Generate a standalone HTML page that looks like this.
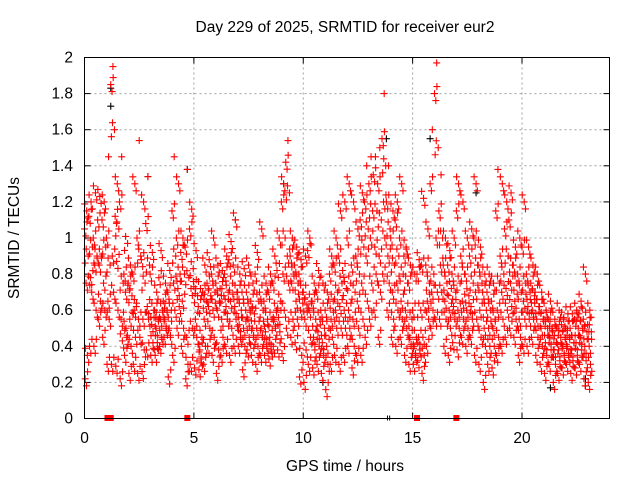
<!DOCTYPE html>
<html><head><meta charset="utf-8"><style>
body{margin:0;background:#fff}
svg text{font-family:"Liberation Sans",sans-serif;font-size:15.5px;fill:#000}
</style></head><body>
<svg id="chart" width="640" height="480" xmlns="http://www.w3.org/2000/svg">
<rect width="640" height="480" fill="#fff"/>
<text x="345" y="32" text-anchor="middle">Day 229 of 2025, SRMTID for receiver eur2</text>
<text x="345" y="471" text-anchor="middle">GPS time / hours</text>
<text x="19" y="238" text-anchor="middle" transform="rotate(-90 19 238)">SRMTID / TECUs</text>
<g id="grid"></g>
<g id="axes"></g>
<g id="black"></g>
<g id="red"></g>
<g id="marks"></g>
<rect x="84.5" y="57.5" width="525" height="361" fill="none" stroke="#000" stroke-width="1"/>
</svg>
<script>
const xTicks=[0,5,10,15,20];
const yTicks=[0,0.2,0.4,0.6,0.8,1,1.2,1.4,1.6,1.8,2];
const yTickLabels=["0","0.2","0.4","0.6","0.8","1","1.2","1.4","1.6","1.8","2"];
const binStart=0, binWidth=0.2;
const redBins=[
[0.22,0.35,0.75,0.9,1.05,1.15],[0.4,0.7,0.78,0.95,1.12,1.2],[0.4,0.6,0.85,0.9,1.0,1.25],[0.55,0.65,0.85,0.9,1.1,1.23],
[0.45,0.6,0.75,0.95,1.1,1.2],[0.3,0.55,0.65,0.85,1.0,1.45],[0.3,0.7,0.9,1.6,1.85,1.95],[0.29,0.6,0.87,1.05,1.12,1.3],
[0.22,0.43,0.55,0.75,1.2,1.45],[0.35,0.45,0.7,0.97,0.8,0.5],[0.25,0.4,0.55,0.68,0.75,0.85],[0.3,0.45,0.6,0.62,0.8,1.3],
[0.25,0.45,0.55,0.9,1.0,1.54],[0.26,0.38,0.55,0.75,0.88,1.2],[0.38,0.55,0.62,0.85,1.08,1.34],[0.35,0.42,0.52,0.6,0.8,0.92],
[0.35,0.42,0.5,0.55,0.6,0.7],[0.4,0.45,0.55,0.6,0.78,0.93],[0.45,0.5,0.55,0.6,0.65,0.75],[0.23,0.45,0.5,0.6,0.7,0.82],
[0.35,0.6,0.75,0.9,1.15,1.45],[0.5,0.62,0.72,0.8,1.0,1.3],[0.4,0.5,0.65,0.8,0.92,1.0],[0.22,0.3,0.45,0.78,0.95,1.38],
[0.3,0.5,0.72,0.83,1.05,1.16],[0.28,0.45,0.55,0.68,0.73,0.93],[0.27,0.33,0.38,0.45,0.62,0.72],[0.3,0.4,0.55,0.65,0.7,0.85],
[0.4,0.5,0.62,0.68,0.75,0.88],[0.35,0.45,0.6,0.7,0.8,1.0],[0.25,0.38,0.6,0.65,0.75,0.85],[0.35,0.45,0.55,0.68,0.72,0.82],
[0.4,0.55,0.62,0.7,0.8,0.9],[0.35,0.5,0.65,0.75,0.88,0.98],[0.4,0.55,0.62,0.7,0.85,1.1],[0.4,0.45,0.52,0.6,0.7,0.8],
[0.27,0.4,0.5,0.6,0.7,0.83],[0.38,0.45,0.55,0.6,0.7,0.85],[0.35,0.45,0.5,0.58,0.65,0.75],[0.3,0.4,0.5,0.65,0.8,0.92],
[0.35,0.45,0.5,0.6,0.7,1.05],[0.35,0.4,0.48,0.55,0.65,0.75],[0.33,0.38,0.45,0.55,0.7,0.8],[0.4,0.5,0.55,0.6,0.75,0.9],
[0.38,0.48,0.56,0.65,0.82,1.0],[0.36,0.6,0.8,1.0,1.2,1.3],[0.5,0.75,0.9,1.25,1.42,1.54],[0.45,0.55,0.75,0.8,0.9,1.0],
[0.42,0.55,0.65,0.75,0.85,0.95],[0.23,0.35,0.6,0.7,0.8,0.88],[0.2,0.38,0.55,0.63,0.7,0.9],[0.3,0.45,0.6,0.65,0.93,1.0],
[0.28,0.38,0.45,0.55,0.65,0.75],[0.3,0.4,0.48,0.55,0.7,0.82],[0.25,0.35,0.42,0.5,0.6,0.75],[0.16,0.3,0.4,0.5,0.6,0.7],
[0.3,0.45,0.55,0.65,0.8,0.9],[0.35,0.5,0.6,0.7,0.85,1.0],[0.3,0.5,0.62,0.75,0.9,1.15],[0.35,0.5,0.6,0.72,0.82,1.2],
[0.4,0.5,0.6,0.75,1.0,1.3],[0.28,0.4,0.55,0.7,0.85,1.2],[0.35,0.5,0.65,0.8,0.9,1.05],[0.35,0.55,0.75,0.95,1.1,1.25],
[0.45,0.65,0.9,1.05,1.2,1.4],[0.55,0.75,1.0,1.15,1.3,1.45],[0.6,0.8,0.95,1.15,1.35,1.45],[0.45,0.7,0.9,1.1,1.3,1.5],
[0.8,1.0,1.2,1.4,1.55,1.8],[0.6,0.75,0.9,1.05,1.2,1.4],[0.45,0.55,0.7,0.85,1.0,1.15],[0.4,0.6,0.75,0.9,1.1,1.2],
[0.45,0.55,0.65,0.8,1.0,1.3],[0.35,0.5,0.6,0.75,0.9,0.95],[0.3,0.4,0.45,0.55,0.75,0.85],[0.3,0.35,0.4,0.45,0.6,0.8],
[0.32,0.38,0.45,0.6,0.8,0.88],[0.25,0.35,0.45,0.6,0.85,1.22],[0.4,0.55,0.65,0.75,0.85,1.05],[0.5,0.6,0.7,0.8,1.3,1.6],
[0.55,0.7,1.0,1.5,1.8,1.97],[0.55,0.7,0.85,1.0,1.15,1.35],[0.4,0.55,0.65,0.75,0.85,1.0],[0.35,0.5,0.6,0.72,0.85,0.93],
[0.42,0.55,0.62,0.7,0.8,1.0],[0.38,0.5,0.6,0.75,1.15,1.3],[0.45,0.55,0.65,0.8,0.9,1.2],[0.4,0.5,0.6,0.68,0.8,1.0],
[0.45,0.55,0.62,0.75,0.9,1.05],[0.35,0.55,0.7,0.85,1.0,1.3],[0.3,0.45,0.6,0.75,0.85,0.95],[0.2,0.4,0.5,0.6,0.7,0.8],
[0.3,0.4,0.5,0.6,0.7,0.8],[0.28,0.4,0.5,0.55,0.65,0.75],[0.35,0.45,0.6,0.75,1.15,1.38],[0.4,0.55,0.7,0.8,0.9,1.3],
[0.45,0.6,0.72,0.9,1.05,1.2],[0.5,0.62,0.75,0.85,1.1,1.25],[0.45,0.55,0.65,0.75,0.85,0.95],[0.35,0.45,0.55,0.7,0.8,1.0],
[0.4,0.55,0.65,0.75,0.95,1.2],[0.4,0.55,0.62,0.7,0.8,0.95],[0.45,0.55,0.6,0.68,0.75,0.85],[0.35,0.45,0.55,0.62,0.7,0.8],
[0.3,0.4,0.5,0.55,0.62,0.7],[0.25,0.35,0.42,0.5,0.55,0.6],[0.3,0.38,0.45,0.5,0.55,0.65],[0.2,0.3,0.38,0.42,0.48,0.55],
[0.25,0.32,0.38,0.45,0.5,0.6],[0.28,0.35,0.4,0.45,0.52,0.55],[0.3,0.35,0.4,0.45,0.5,0.58],[0.25,0.32,0.38,0.42,0.5,0.58],
[0.28,0.35,0.42,0.5,0.55,0.6],[0.3,0.38,0.45,0.5,0.58,0.65],[0.22,0.32,0.4,0.48,0.55,0.8],[0.2,0.3,0.4,0.48,0.52,0.6]
];
const blackTimes=[1.2,1.2,4.7,13.8,15.8,10.9,22.9,22.9,21.3,2.9,6.9,9.1,17.9];
const blackValues=[1.83,1.73,1.38,1.55,1.55,0.2,0.18,0.22,0.17,1.34,1.1,1.3,1.25];
const redMarkTimes=[1.05,1.2,4.7,15.2,17.0];
const blackMarkTimes=[13.85,13.95];

const X0=84.5,X1=609.5,Y0=418.5,Y1=57.5,XMAX=24,YMAX=2;
const sx=t=>X0+(X1-X0)*t/XMAX, sy=v=>Y0-(Y0-Y1)*v/YMAX;
const NS="http://www.w3.org/2000/svg";
function mk(tag,attrs,parent){const e=document.createElementNS(NS,tag);for(const k in attrs)e.setAttribute(k,attrs[k]);parent.appendChild(e);return e;}
const grid=document.getElementById('grid'),axes=document.getElementById('axes');
xTicks.forEach(t=>{
  const x=sx(t);
  if(t>0){const g=mk('line',{x1:x,x2:x,y1:Y1,y2:Y0,stroke:'#a0a0a0','stroke-dasharray':'2,3'},grid);
  
  }
  mk('line',{x1:x,x2:x,y1:Y0,y2:Y0-6,stroke:'#000'},axes);
  mk('line',{x1:x,x2:x,y1:Y1,y2:Y1+6,stroke:'#000'},axes);
  const l=mk('text',{x:x,y:443,'text-anchor':'middle'},axes);l.textContent=String(t);
  
  
});
yTicks.forEach((v,i)=>{
  const y=sy(v);
  if(v>0&&v<YMAX){const g=mk('line',{x1:X0,x2:X1,y1:y,y2:y,stroke:'#a0a0a0','stroke-dasharray':'2,3'},grid);
  
  }
  mk('line',{x1:X0,x2:X0+6,y1:y,y2:y,stroke:'#000'},axes);
  mk('line',{x1:X1,x2:X1-6,y1:y,y2:y,stroke:'#000'},axes);
  const l=mk('text',{x:73,y:y+5,'text-anchor':'end'},axes);l.textContent=yTickLabels[i];
  
  
});
function cross(t,v,col,parent,dy){
  const x=sx(t),y=sy(v)+(dy||0);
  return mk('path',{d:`M${x-3.5},${y}H${x+3.5}M${x},${y-3.5}V${y+3.5}`,stroke:col,'stroke-width':1.1,fill:'none'},parent);
}
const blk=document.getElementById('black'),red=document.getElementById('red');
blackTimes.forEach((t,i)=>{const p=cross(t,blackValues[i],'#000',blk);
  
  });
const offs=[0.03,0.13,0.07,0.17,0.0,0.1];
const copies=[[0,0],[0.06,7],[0.11,-7]];
redBins.forEach((bin,b)=>{bin.forEach((v,j)=>{
  copies.forEach((c,k)=>{
    if(k>0 && (j===5 && v>1.3)) return;
    const p=cross(binStart+b*binWidth+((offs[j]+c[0])%binWidth),v,'#f00',red,c[1]);
    
    
  });
});});
const marks=document.getElementById('marks');
redMarkTimes.forEach(t=>{const r=mk('rect',{x:sx(t)-3,y:Y0-3.5,width:6,height:6,fill:'#f00'},marks);
  
  });
blackMarkTimes.forEach(t=>{const r=mk('line',{x1:sx(t),x2:sx(t),y1:Y0-3,y2:Y0+2,stroke:'#000'},marks);
  
  });
</script>
</body></html>
